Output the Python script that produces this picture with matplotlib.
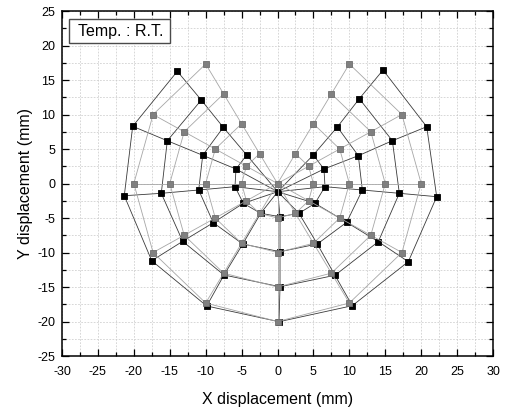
import matplotlib.pyplot as plt
from matplotlib.patches import Rectangle
from matplotlib.ticker import MultipleLocator

plt.rcParams['font.family'] = ['Liberation Sans', 'DejaVu Sans']
plt.rcParams['axes.unicode_minus'] = False

# point order along each ring: 60, 30, 0, -30, -60, -90, -120, -150, 180, 150, 120 deg
# measured (deformed) grid, black
black_center = (0.03, -1.19)
black_x = [
    [4.98, 6.47, 6.61, 5.22, 2.99, 0.35, -2.34, -4.76, -5.92, -5.78, -4.29],
    [8.33, 11.25, 11.81, 9.63, 5.54, 0.35, -4.84, -8.94, -10.97, -10.41, -7.55],
    [11.39, 15.99, 16.96, 14.03, 8.00, 0.35, -7.45, -13.20, -16.18, -15.34, -10.61],
    [14.69, 20.77, 22.16, 18.21, 10.41, 0.21, -9.86, -17.51, -21.33, -20.16, -13.95],
]
black_y = [
    [4.13, 2.10, -0.46, -2.87, -4.32, -4.81, -4.32, -2.87, -0.46, 2.10, 4.13],
    [8.19, 4.03, -0.94, -5.62, -8.77, -9.88, -8.77, -5.68, -0.94, 4.09, 8.14],
    [12.29, 6.20, -1.42, -8.43, -13.30, -14.96, -13.26, -8.38, -1.42, 6.20, 12.10],
    [16.45, 8.23, -1.91, -11.33, -17.71, -20.03, -17.75, -11.19, -1.77, 8.29, 16.26],
]

# original grid, gray
gray_center = (0.0, 0.0)
gray_x = [
    [2.5, 4.33, 5.0, 4.33, 2.5, 0.0, -2.5, -4.33, -5.0, -4.33, -2.5],
    [5.0, 8.66, 10.0, 8.66, 5.0, 0.0, -5.0, -8.66, -10.0, -8.66, -5.0],
    [7.5, 12.99, 15.0, 12.99, 7.5, 0.0, -7.5, -12.99, -15.0, -12.99, -7.5],
    [10.0, 17.32, 20.0, 17.32, 10.0, 0.0, -10.0, -17.32, -20.0, -17.32, -10.0],
]
gray_y = [
    [4.33, 2.5, 0.0, -2.5, -4.33, -5.0, -4.33, -2.5, 0.0, 2.5, 4.33],
    [8.66, 5.0, 0.0, -5.0, -8.66, -10.0, -8.66, -5.0, 0.0, 5.0, 8.66],
    [12.99, 7.5, 0.0, -7.5, -12.99, -15.0, -12.99, -7.5, 0.0, 7.5, 12.99],
    [17.32, 10.0, 0.0, -10.0, -17.32, -20.0, -17.32, -10.0, 0.0, 10.0, 17.32],
]


def draw_web(ax, center, xs, ys, line_c, face_c, edge_c, z):
    # rings
    for rx, ry in zip(xs, ys):
        ax.plot(rx, ry, color=line_c, lw=0.6, zorder=z)
    # spokes
    for j in range(len(xs[0])):
        sx = [center[0]] + [r[j] for r in xs]
        sy = [center[1]] + [r[j] for r in ys]
        ax.plot(sx, sy, color=line_c, lw=0.6, zorder=z)
    px = [center[0]] + [v for r in xs for v in r]
    py = [center[1]] + [v for r in ys for v in r]
    ax.plot(px, py, ls='none', marker='s', ms=5, mfc=face_c, mec=edge_c,
            mew=0.6, zorder=z + 0.5)


fig = plt.figure(figsize=(5.07, 4.11), dpi=100)
ax = fig.add_axes([0.1223, 0.1338, 0.8501, 0.8394])

draw_web(ax, black_center, black_x, black_y, '#3a3a3a', 'black', 'black', 3)
draw_web(ax, gray_center, gray_x, gray_y, '#a6a6a6', '#808080', '#6e6e6e', 4)

ax.set_xlim(-30, 30)
ax.set_ylim(-25, 25)
ax.xaxis.set_major_locator(MultipleLocator(5))
ax.xaxis.set_minor_locator(MultipleLocator(2.5))
ax.yaxis.set_major_locator(MultipleLocator(5))
ax.yaxis.set_minor_locator(MultipleLocator(2.5))
ax.tick_params(which='both', direction='in', top=True, right=True,
               labelsize=9, width=0.9)
ax.tick_params(axis='x', pad=7)
ax.tick_params(axis='y', pad=5)
ax.tick_params(which='major', length=5)
ax.tick_params(which='minor', length=3)
ax.grid(True, which='both', color='#c8c8c8', lw=0.5, ls=(0, (2.5, 2)), zorder=0)
for s in ax.spines.values():
    s.set_linewidth(1.1)

ax.set_xlabel('X displacement (mm)', fontsize=11.5, labelpad=10)
ax.set_ylabel('Y displacement (mm)', fontsize=11.5, labelpad=3)

# label box
ax.add_patch(Rectangle((0.0162, 0.9072), 0.2344, 0.0696, transform=ax.transAxes,
                       fc='white', ec='#4a4a4a', lw=1.0, zorder=6))
ax.text(0.037, 0.942, 'Temp. : R.T.', transform=ax.transAxes, fontsize=11.5,
        va='center', ha='left', zorder=7)

plt.savefig('out.png', dpi=100)
plt.close()
